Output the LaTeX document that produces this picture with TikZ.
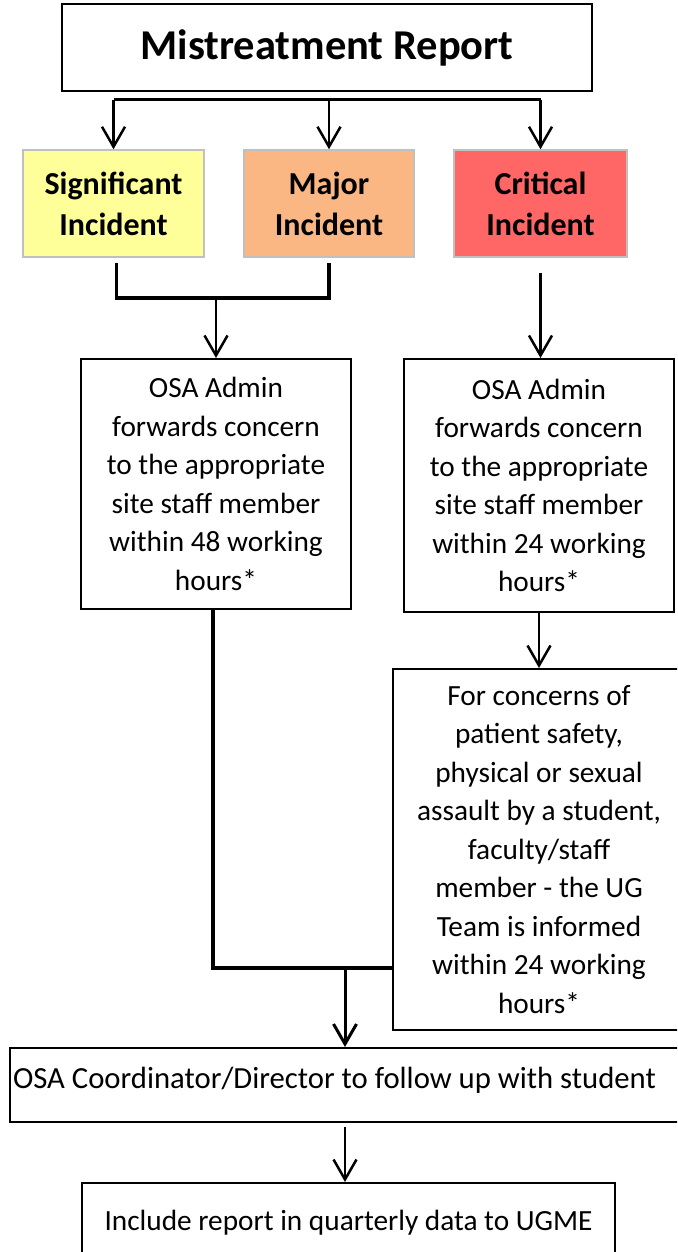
\documentclass[tikz,border=0pt]{standalone}
\usepackage{fontspec}
\setmainfont{Carlito}
\usetikzlibrary{arrows.meta}
\definecolor{sigc}{HTML}{FFFF99}
\definecolor{majc}{HTML}{FAB784}
\definecolor{critc}{HTML}{FF6666}
\definecolor{incb}{HTML}{C0C0C0}
\begin{document}
\begin{tikzpicture}[x=1pt,y=-1pt,
  box/.style={draw, line width=2pt, inner sep=0pt, align=center, font=\fontsize{29.3}{38.5}\selectfont},
  inc/.style={draw=incb, line width=1.5pt, inner sep=0pt, align=center, font=\fontsize{32}{41}\selectfont\bfseries, minimum height=107pt},
  conn/.style={line width=2.5pt, -{Straight Barb[length=20pt,width=23pt]}},
  bar/.style={line width=3.5pt},
]
\useasboundingbox (0,0) rectangle (677,1252);
\clip (0,0) rectangle (677,1252);

\node[box, line width=2.5pt, minimum width=530pt, minimum height=87pt, font=\fontsize{42.5}{50}\selectfont\bfseries] (title) at (327,47.5) {Mistreatment Report};

\node[inc, fill=sigc, minimum width=181pt] (sig) at (113.5,203.5) {Significant\\Incident};
\node[inc, fill=majc, minimum width=170pt] (maj) at (329,203.5) {Major\\Incident};
\node[inc, fill=critc, minimum width=173pt] (crit) at (540.5,203.5) {Critical\\Incident};

\node[box, minimum width=270pt, minimum height=250pt] (losa) at (216,484) {OSA Admin\\forwards concern\\to the appropriate\\site staff member\\within 48 working\\hours*};
\node[box, minimum width=270pt, minimum height=253pt] (rosa) at (539,485.5) {OSA Admin\\forwards concern\\to the appropriate\\site staff member\\within 24 working\\hours*};

\node[box, minimum width=292pt, minimum height=361pt] (ug) at (539,849.5) {For concerns of\\patient safety,\\physical or sexual\\assault by a student,\\faculty/staff\\member - the UG\\Team is informed\\within 24 working\\hours*};

\node[box, minimum width=670pt, minimum height=74pt, text depth=15pt, font=\fontsize{30.7}{38.5}\selectfont] (coord) at (345,1085) {OSA Coordinator/Director to follow up with student\hspace*{21pt}};

\node[box, minimum width=533pt, minimum height=80pt] (bot) at (348.5,1223) {Include report in quarterly data to UGME};

% branching from title
\coordinate (brY) at (0,100);
\draw[bar, line width=3pt] (sig.north |- brY) -- (crit.north |- brY);
\draw[conn] (sig.north |- brY) -- (sig.north);
\draw[conn] (maj.north |- brY) -- (maj.north);
\draw[conn] (crit.north |- brY) -- (crit.north);

% bracket joining significant and major
\coordinate (bj) at (216,298);
\draw[bar] ([xshift=3pt,yshift=-5pt]sig.south) |- (bj) -| ([yshift=-5pt]maj.south);
\draw[conn] (bj) -- (losa.north);

% critical to right OSA
\draw[conn] ([yshift=-15pt]crit.south) -- (crit.south |- rosa.north);

% right OSA to UG
\draw[conn] (rosa.south) -- (ug.north);

% merge to coordinator
\coordinate (j2) at (345,968);
\draw[bar] ([xshift=-3pt]losa.south) |- (ug.west |- j2);
\draw[conn, line width=3pt] (j2) -- (coord.north);

% coordinator to bottom
\draw[conn] ([yshift=-4pt]coord.south) -- (coord.south |- bot.north);
\end{tikzpicture}
\end{document}
